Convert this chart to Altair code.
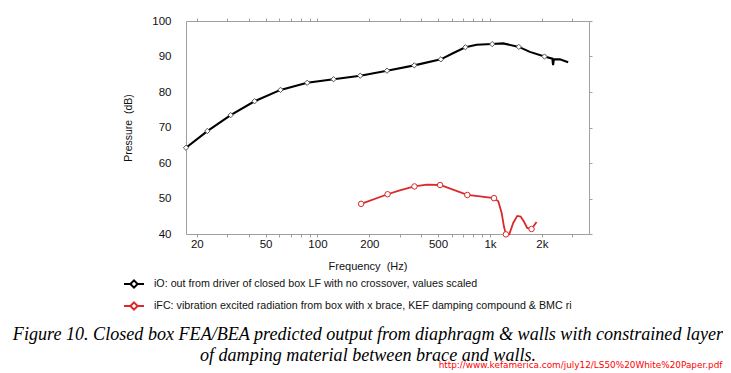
import altair as alt
import pandas as pd

# ---- data ----
io_label = "iO: out from driver of closed box LF with no crossover, values scaled"
ifc_label = "iFC: vibration excited radiation from box with x brace, KEF damping compound & BMC ri"

io_freq = [17.3, 23.0, 31.4, 43.2, 61.1, 87.2, 124, 177, 253, 364, 519, 614, 720, 837,
           1030, 1190, 1470, 1703, 2070, 2300, 2322, 2345, 2543, 2840]
io_db = [64.3, 69.0, 73.5, 77.4, 80.6, 82.6, 83.6, 84.6, 86.0, 87.5, 89.2, 91.0, 92.6, 93.3,
         93.5, 93.7, 92.7, 91.3, 90.0, 89.4, 87.6, 89.2, 89.2, 88.4]
io_mk_freq = [17.3, 23.0, 31.4, 43.2, 61.1, 87.2, 124, 177, 253, 364, 519, 720, 1030, 1470, 2070]
io_mk_db = [64.3, 69.0, 73.5, 77.4, 80.6, 82.6, 83.6, 84.6, 86.0, 87.5, 89.2, 92.6, 93.5, 92.7, 90.0]

ifc_freq = [179, 255, 300, 365, 431, 514, 739, 875, 1055, 1117, 1169, 1205, 1237, 1293,
            1364, 1439, 1505, 1573, 1643, 1742, 1862]
ifc_db = [48.5, 51.2, 52.3, 53.4, 53.9, 53.8, 51.0, 50.6, 50.1, 49.2, 45.9, 42.1, 39.9, 39.9,
          43.1, 45.1, 44.9, 43.5, 41.7, 41.4, 43.4]
ifc_mk_freq = [179, 255, 365, 514, 739, 1055, 1237, 1742]
ifc_mk_db = [48.5, 51.2, 53.4, 53.8, 51.0, 50.1, 39.9, 41.4]

major_ticks = [20, 50, 100, 200, 500, 1000, 2000]
minor_ticks = [30, 40, 60, 70, 80, 90, 300, 400, 600, 700, 800, 900, 3000]
y_ticks = [40, 50, 60, 70, 80, 90, 100]

caption = ["Figure 10. Closed box FEA/BEA predicted output from diaphragm & walls with constrained layer",
           "of damping material between brace and walls."]
url = "http://www.kefamerica.com/july12/LS50%20White%20Paper.pdf"

# ---- tables ----
io_df = pd.DataFrame({"f": io_freq, "db": io_db, "series": io_label})
ifc_df = pd.DataFrame({"f": ifc_freq, "db": ifc_db, "series": ifc_label})
io_mk = pd.DataFrame({"f": io_mk_freq, "db": io_mk_db})
ifc_mk = pd.DataFrame({"f": ifc_mk_freq, "db": ifc_mk_db})

AX = "#a0a0a0"
LF = "Liberation Sans"
RED = "#dc2828"
xscale = alt.Scale(type="log", domain=[17.3, 3750], nice=False)
yscale = alt.Scale(domain=[40, 100], nice=False)
all_ticks = sorted(major_ticks + minor_ticks)
label_expr = ("indexof([20,50,100,200,500,1000,2000], datum.value) >= 0 ? "
              "(datum.value >= 1000 ? (datum.value/1000) + 'k' : datum.value + '') : ''")

x_bottom = alt.Axis(values=all_ticks, labelExpr=label_expr, grid=False, domainColor=AX,
                    tickColor=AX, tickSize=3, labelPadding=1, labelFont=LF, labelFontSize=11.5,
                    labelColor="#111", labelFlush=False, title="Frequency \u00a0(Hz)",
                    titleFont=LF, titleFontSize=11, titleFontWeight="normal", titleColor="#111",
                    titleX=181.5, titleY=32, titleBaseline="middle", titleAnchor="start",
                    titleAlign="center", orient="bottom")
y_left = alt.Axis(values=y_ticks, grid=False, domainColor=AX, ticks=False, labelPadding=15,
                  labelFont=LF, labelFontSize=11.5, labelColor="#111", title="Pressure \u00a0(dB)",
                  titleFont=LF, titleFontSize=10.5, titleFontWeight="normal", titleColor="#111",
                  titleX=-58, titleY=106.5, titleAngle=-90, titleBaseline="middle",
                  titleAlign="center", orient="left")
x_top = alt.Axis(values=all_ticks, labels=False, grid=False, domainColor=AX, tickColor=AX,
                 tickSize=3, title=None, orient="top")
y_right = alt.Axis(values=y_ticks, labels=False, grid=False, domainColor=AX, tickColor=AX,
                   tickSize=3, title=None, orient="right")

# legend symbol: short line with a small hollow diamond in the middle
sym_path = "M-1,0H-0.36M0.36,0H1M0,-0.36L0.36,0L0,0.36L-0.36,0Z"
legend = alt.Legend(title=None, orient="none", legendX=-63, legendY=252, direction="vertical",
                    symbolType=sym_path, symbolSize=400, symbolStrokeWidth=2,
                    symbolFillColor="white",
                    labelFont=LF, labelFontSize=10.7, labelColor="#111", labelLimit=700,
                    labelOffset=9, rowPadding=3, padding=0)
color = alt.Color("series:N", scale=alt.Scale(domain=[io_label, ifc_label],
                                              range=["#000000", RED]), legend=legend)

line_io = alt.Chart(io_df).mark_line(strokeWidth=2.1).encode(
    x=alt.X("f:Q", scale=xscale, axis=x_bottom),
    y=alt.Y("db:Q", scale=yscale, axis=y_left),
    color=color,
)
line_ifc = alt.Chart(ifc_df).mark_line(strokeWidth=1.8).encode(
    x=alt.X("f:Q", scale=xscale, axis=x_top),
    y=alt.Y("db:Q", scale=yscale, axis=y_right),
    color=color,
)
pts_io = alt.Chart(io_mk).mark_point(shape="diamond", filled=True, fill="white", stroke="#555",
                                     strokeWidth=1, size=28, opacity=1).encode(
    x=alt.X("f:Q", scale=xscale, axis=None),
    y=alt.Y("db:Q", scale=yscale, axis=None),
)
pts_ifc = alt.Chart(ifc_mk).mark_point(shape="circle", filled=True, fill="white", stroke=RED,
                                       strokeWidth=1, size=30, opacity=1).encode(
    x=alt.X("f:Q", scale=xscale, axis=None),
    y=alt.Y("db:Q", scale=yscale, axis=None),
)
cap_txt = alt.Chart(pd.DataFrame({"t": ["\n".join(caption)]})).mark_text(
    align="center", baseline="alphabetic", font="Liberation Serif", fontStyle="italic",
    fontSize=18.1, lineBreak="\n", lineHeight=21.5, color="#000"
).encode(text="t:N", x=alt.value(182), y=alt.value(318.5))
url_txt = alt.Chart(pd.DataFrame({"t": [url]})).mark_text(
    align="right", baseline="alphabetic", font="DejaVu Sans", fontSize=8.9, color="#ff0000"
).encode(text="t:N", x=alt.value(536.5), y=alt.value(347))

chart = alt.layer(line_io, line_ifc, pts_io, pts_ifc, cap_txt, url_txt).resolve_axis(
    x="independent", y="independent"
).properties(
    width=403, height=213,
    padding={"left": 178, "top": 13, "right": 134, "bottom": 139},
    autosize=alt.AutoSizeParams(type="none"),
    background="white",
).configure_view(stroke=None)

chart.save("out.html", embed_options={"renderer": "svg", "actions": False})
